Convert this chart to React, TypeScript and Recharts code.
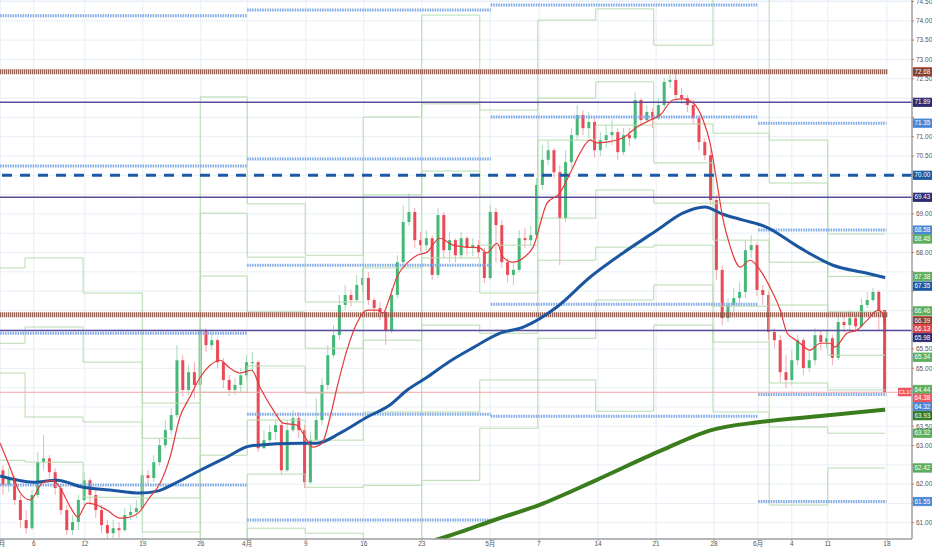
import React from 'react';
import {
  ComposedChart,
  Bar,
  Line,
  XAxis,
  YAxis,
  CartesianGrid,
  ReferenceLine,
} from 'recharts';

// CL1! half-day candles, 1 Mar -> 18 Jun (bar index on the x axis)
const candleClose = [
  61.98, 62.16, 61.59, 61.07, 60.86, 61.72, 62.57, 62.67, 62.31, 61.9,
  61.33, 60.81, 61.02, 61.59, 62.1, 61.72, 61.33, 60.94, 60.73, 60.86,
  60.81, 61.2, 61.28, 61.38, 62.23, 62.16, 62.57, 63.01, 63.4, 63.79,
  65.21, 64.44, 64.9, 64.57, 65.99, 65.6, 65.73, 65.16, 64.7, 64.44,
  64.57, 64.82, 65.16, 65.16, 62.93, 63.14, 63.35, 63.53, 62.36, 63.4,
  63.71, 63.4, 62.05, 63.14, 63.66, 64.57, 65.34, 65.86, 66.64, 66.9,
  66.77, 67.16, 67.34, 66.77, 66.56, 66.46, 65.99, 66.9, 67.75, 68.79,
  69.05, 68.32, 68.19, 68.37, 67.42, 68.97, 68.06, 68.32, 67.93, 68.37,
  68.12, 68.19, 68.01, 67.34, 69.05, 68.71, 67.75, 67.42, 67.55, 68.37,
  68.32, 68.45, 69.75, 70.4, 70.65, 70.08, 68.89, 70.34, 71.04, 71.56,
  71.22, 71.38, 70.65, 70.91, 71.04, 71.12, 70.6, 71.04, 70.96, 71.95,
  71.43, 71.64, 71.48, 71.82, 72.42, 72.47, 72.08, 72.0, 71.82, 71.48,
  70.86, 70.52, 69.36, 67.55, 66.3, 66.64, 66.82, 66.98, 68.06, 68.19,
  67.03, 66.9, 65.94, 65.73, 64.9, 64.7, 65.21, 65.73, 65.01, 65.21,
  65.86, 65.68, 65.78, 65.27, 66.2, 66.12, 66.3, 66.09, 66.64, 66.77,
  66.98, 66.51, 64.38,
];
const candleHigh = [
  62.49, 62.42, 62.23, 61.72, 61.33, 61.85, 62.83, 63.27, 62.75, 62.42,
  61.98, 61.46, 61.2, 61.72, 62.31, 62.16, 61.85, 61.46, 61.07, 61.07,
  61.02, 61.38, 61.46, 61.59, 62.36, 62.36, 62.75, 63.19, 63.66, 63.97,
  65.6, 65.34, 65.08, 65.16, 66.2, 66.04, 65.91, 65.78, 65.27, 64.82,
  64.75, 65.01, 65.34, 65.42, 65.21, 63.4, 63.53, 63.66, 63.6, 63.66,
  63.92, 63.87, 63.53, 63.35, 64.23, 64.75, 65.6, 66.12, 66.9, 67.16,
  67.03, 67.42, 67.6, 67.49, 66.82, 66.72, 66.51, 67.08, 67.93, 69.23,
  69.54, 69.15, 68.53, 68.58, 68.45, 69.15, 69.05, 68.53, 68.37, 68.53,
  68.43, 68.37, 68.32, 68.12, 69.23, 69.15, 68.84, 67.86, 67.75, 68.58,
  68.63, 68.71, 69.93, 70.78, 70.91, 70.71, 70.27, 70.65, 71.22, 71.82,
  71.69, 71.64, 71.48, 71.12, 71.3, 71.43, 71.22, 71.22, 71.22, 72.16,
  72.0, 71.82, 71.74, 72.0, 72.52, 72.6, 72.73, 72.26, 72.08, 71.95,
  71.56, 70.96, 70.65, 69.49, 67.67, 66.82, 67.08, 67.23, 68.32, 68.45,
  68.27, 67.16, 66.98, 66.04, 65.86, 65.34, 65.47, 65.86, 65.8, 65.47,
  66.04, 65.99, 65.99, 65.86, 66.38, 66.38, 66.51, 66.38, 66.82, 66.98,
  67.08, 67.03, 66.51,
];
const candleLow = [
  61.72, 61.79, 61.46, 60.86, 60.71, 60.81, 61.64, 62.36, 62.16, 61.72,
  61.2, 60.68, 60.68, 60.81, 61.46, 61.46, 61.12, 60.73, 60.55, 60.6,
  60.6, 60.76, 61.07, 61.12, 61.28, 62.0, 62.05, 62.47, 62.93, 63.27,
  63.71, 64.28, 64.31, 64.23, 64.44, 65.42, 65.47, 65.01, 64.49, 64.28,
  64.31, 64.38, 64.7, 64.9, 62.83, 62.93, 62.99, 63.14, 62.23, 62.31,
  63.35, 63.19, 61.9, 62.0, 63.14, 63.53, 64.44, 65.27, 65.73, 66.51,
  66.61, 66.72, 66.98, 66.64, 66.3, 66.25, 65.6, 65.91, 66.82, 67.65,
  68.69, 68.12, 68.01, 68.06, 67.29, 67.34, 67.86, 67.75, 67.75, 67.86,
  67.93, 67.91, 67.86, 67.21, 67.29, 67.75, 67.6, 67.23, 67.16, 67.49,
  68.12, 68.19, 68.37, 69.62, 70.27, 69.93, 67.67, 68.79, 70.19, 70.91,
  71.04, 70.96, 70.45, 70.5, 70.71, 70.78, 70.4, 70.52, 70.76, 70.91,
  71.28, 71.38, 71.22, 71.43, 71.74, 72.26, 71.95, 71.85, 71.64, 71.33,
  70.65, 70.4, 69.23, 67.29, 66.12, 66.2, 66.46, 66.64, 66.82, 67.86,
  66.87, 66.64, 65.73, 65.52, 64.64, 64.49, 64.57, 65.08, 64.82, 64.9,
  65.08, 65.47, 65.52, 65.08, 65.21, 65.94, 65.99, 65.94, 66.04, 66.56,
  66.72, 65.99, 64.33,
];
const firstOpen = 62.36;

// moving averages (bar index, price)
const redMaIdx = [
  -0.5, 1.2, 2.9, 4.7, 6.9, 8.6, 9.8, 11.6, 12.9, 14.5,
  16.2, 17.9, 20.2, 21.9, 23.3, 25.3, 27.1, 28.8, 30.5, 32.2,
  34.0, 35.7, 37.4, 39.1, 40.9, 42.9, 44.3, 46.6, 48.3, 50.7,
  51.7, 53.4, 55.0, 56.4, 57.6, 59.3, 61.0, 62.8, 64.5, 65.5,
  66.7, 67.9, 69.7, 71.4, 73.1, 75.3, 77.6, 80.0, 82.2, 83.4,
  85.2, 86.2, 87.9, 89.7, 91.4, 93.8, 96.0, 97.8, 99.5, 101.2,
  102.4, 104.1, 106.9, 109.3, 111.6, 113.3, 115.5, 117.2, 119.0, 120.7,
  121.9, 123.1, 124.1, 125.3, 127.1, 128.8, 130.5, 132.2, 134.0, 135.2,
  136.2, 137.4, 139.1, 140.9, 142.6, 143.4, 145.5, 147.2, 149.0, 150.9,
  151.6, 152.1,
];
const redMaVal = [
  63.06, 62.44, 61.79, 61.59, 62.05, 62.1, 61.92, 61.41, 61.15, 61.51,
  61.46, 61.33, 61.12, 61.15, 61.25, 61.66, 62.03, 62.7, 63.74, 64.25,
  64.77, 65.08, 65.21, 65.01, 64.88, 64.95, 64.51, 63.92, 63.58, 63.53,
  63.32, 62.96, 63.06, 63.74, 64.51, 65.47, 66.17, 66.51, 66.51, 66.43,
  66.85, 67.36, 67.73, 67.93, 68.01, 68.37, 68.19, 68.14, 68.12, 67.99,
  68.24, 67.88, 67.75, 67.86, 68.14, 69.28, 69.54, 70.06, 70.58, 70.91,
  70.84, 70.86, 70.97, 71.25, 71.43, 71.56, 71.95, 71.98, 71.87, 71.43,
  70.84, 69.8, 68.89, 68.19, 67.62, 67.8, 67.55, 67.11, 66.51, 65.91,
  65.78, 65.65, 65.47, 65.65, 65.65, 65.55, 65.91, 65.99, 66.25, 66.51,
  66.43, 66.17,
];
const blueMaIdx = [
  -0.5, 5.2, 9.3, 13.8, 18.4, 23.6, 26.6, 30.0, 34.0, 38.6,
  42.6, 51.2, 54.1, 58.1, 62.8, 66.7, 69.7, 73.1, 76.6, 81.0,
  85.7, 89.7, 95.5, 101.2, 106.9, 112.8, 117.2, 121.0, 124.1, 127.6,
  131.6, 137.2, 143.1, 148.8, 152.1,
];
const blueMaVal = [
  62.21, 62.05, 62.1, 61.92, 61.85, 61.77, 61.82, 62.05, 62.36, 62.7,
  62.99, 63.06, 63.06, 63.32, 63.74, 64.05, 64.44, 64.77, 65.14, 65.53,
  65.91, 66.07, 66.59, 67.36, 67.99, 68.58, 69.02, 69.18, 68.99, 68.84,
  68.66, 68.14, 67.67, 67.47, 67.35,
];
const greenMaIdx = [74.5, 79.8, 84.1, 92.4, 102.2, 113.6, 122.1, 130.5, 140.5, 152.1];
const greenMaVal = [60.55, 60.81, 61.04, 61.46, 62.1, 62.88, 63.4, 63.61, 63.76, 63.93];

// weekly pivots (R3..S3), one value per week
const weekStarts = [-0.5, 3.8, 13.8, 24.0, 34.0, 42.1, 52.1, 62.1, 72.2, 82.2, 92.2, 102.2, 112.2, 122.4, 132.1, 142.2];
const weekEnd = 152.1;
const pivotR3 = [67.6, 67.86, 66.95, 64.1, 72.03, 69.26, 67.93, 71.51, 74.15, 71.69, 74.02, 74.31, 73.37, 75.06, 70.91, 68.48];
const pivotR2 = [65.65, 66.07, 65.16, 63.19, 69.02, 67.88, 66.72, 69.49, 71.85, 69.44, 72.0, 72.42, 71.33, 71.09, 69.8, 67.38];
const pivotR1 = [64.88, 63.74, 63.61, 61.64, 67.39, 66.46, 65.52, 67.6, 70.11, 68.19, 70.91, 71.3, 70.32, 69.28, 67.75, 66.46];
const pivotP = [62.62, 62.57, 61.66, 60.76, 64.38, 65.06, 64.36, 65.73, 67.86, 66.95, 68.89, 69.62, 69.28, 68.32, 66.64, 65.34];
const pivotS1 = [60.55, 60.55, 60.03, 59.77, 62.75, 63.66, 63.14, 63.87, 66.12, 65.91, 67.8, 68.14, 68.19, 66.61, 64.62, 64.44];
const pivotS2 = [59.51, 59.51, 59.0, 58.74, 59.75, 62.26, 61.92, 61.97, 63.87, 64.7, 65.78, 66.77, 67.16, 65.68, 63.48, 63.32];
const pivotS3 = [58.48, 58.48, 57.96, 57.7, 58.12, 60.86, 60.73, 60.08, 62.1, 63.45, 64.7, 63.89, 66.12, 63.87, 61.46, 62.42];

// monthly pivots
const monthStarts = [-0.5, 42.1, 84.1, 130.2];
const monthEnd = 152.3;
const marchPivots = [74.13, 70.24, 65.91, 61.98];
const aprilPivots = [74.28, 70.42, 67.67, 63.81, 61.07];
const mayPivots = [74.41, 71.51, 66.66, 63.76];
const junePivots = [71.35, 68.58, 64.32, 61.55];

// drawn horizontal levels
const brownLevels = [72.68, 66.39];
const purpleLevels = [71.89, 69.43, 65.98];
const dashedLevel = 70.0;

const dateTicks = [-0.5, 5.3, 14.1, 24.1, 34.1, 42.1, 52.2, 62.2, 72.2, 84.0, 92.4, 102.6, 112.6, 122.6, 130.2, 136.0, 142.2, 152.4];
const dateLabels = ['3月', '6', '12', '19', '26', '4月', '9', '16', '23', '5月', '7', '14', '21', '28', '6月', '4', '11', '18'];
const priceTicks = [
  61, 61.5, 62, 62.5, 63, 63.5, 64, 64.5, 65, 65.5, 66, 66.5, 67, 67.5,
  68, 68.5, 69, 69.5, 70, 70.5, 71, 71.5, 72, 72.5, 73, 73.5, 74, 74.5,
];

const FONT = "'Liberation Sans', Arial, 'Noto Sans CJK JP', sans-serif";
const Y_MIN = 60.58;
const Y_MAX = 74.54;
const PLOT_H = 539;
const PX_PER_UNIT = PLOT_H / (Y_MAX - Y_MIN);

const NAVY = '#2d2a70';
const LBLUE = '#4b87d6';
const DBLUE = '#1c5aa4';
const GREEN = '#5cae5c';
const BROWN = '#7d3d31';

const TAGS = [
  { v: 72.68, bg: BROWN, border: '#d8473b', dy: 0 },
  { v: 71.89, bg: NAVY, dy: 0 },
  { v: 71.35, bg: LBLUE, dy: 0 },
  { v: 70.0, bg: DBLUE, dy: 0 },
  { v: 69.43, bg: NAVY, dy: 0 },
  { v: 68.58, bg: LBLUE, dy: 0 },
  { v: 68.48, bg: GREEN, dy: 5 },
  { v: 67.38, bg: GREEN, dy: 0 },
  { v: 67.35, bg: DBLUE, dy: 8.5 },
  { v: 66.46, bg: GREEN, dy: -1 },
  { v: 66.39, bg: BROWN, border: '#d8473b', dy: 6 },
  { v: 66.13, bg: '#e04646', dy: 4 },
  { v: 65.98, bg: NAVY, dy: 7 },
  { v: 65.34, bg: GREEN, dy: 2 },
  { v: 64.44, bg: GREEN, dy: -0.5 },
  { v: 64.38, bg: '#ef5560', dy: 6, symbol: 'CL1!' },
  { v: 64.32, bg: LBLUE, dy: 12 },
  { v: 63.93, bg: '#2f7a1f', dy: 6 },
  { v: 63.32, bg: GREEN, dy: 0 },
  { v: 62.42, bg: GREEN, dy: 0 },
  { v: 61.55, bg: LBLUE, dy: 0 },
];

const candles = candleClose.map((close, i) => ({
  x: i,
  open: i === 0 ? firstOpen : candleClose[i - 1],
  close,
  high: candleHigh[i],
  low: candleLow[i],
}));

const toSeries = (idx: number[], val: number[]) => idx.map((x, i) => ({ x, v: val[i] }));
const redMa = toSeries(redMaIdx, redMaVal);
const blueMa = toSeries(blueMaIdx, blueMaVal);
const greenMa = toSeries(greenMaIdx, greenMaVal);

const pivotKeys = ['r3', 'r2', 'r1', 'p', 's1', 's2', 's3'];
const pivotCols = [pivotR3, pivotR2, pivotR1, pivotP, pivotS1, pivotS2, pivotS3];
const pivotRows = [...weekStarts, weekEnd].map((x, k) => {
  const row: any = { x };
  const w = Math.min(k, weekStarts.length - 1);
  pivotKeys.forEach((key, j) => (row[key] = pivotCols[j][w]));
  return row;
});

const monthly = [marchPivots, aprilPivots, mayPivots, junePivots];

const Candle = (props: any) => {
  const { x, y, width, height, payload } = props;
  if (!payload || !Number.isFinite(y) || !Number.isFinite(height)) return null;
  const { open, close, high, low } = payload;
  const top = Math.min(y, y + height);
  const h = Math.abs(height);
  const span = high - low || 1;
  const py = (v: number) => top + ((high - v) / span) * h;
  const up = close >= open;
  const cx = x + width / 2;
  const b1 = py(Math.max(open, close));
  const b2 = py(Math.min(open, close));
  const bw = 3;
  return (
    <g>
      <line x1={cx} x2={cx} y1={top} y2={top + h} stroke={up ? '#a6dab8' : '#f4a9b0'} strokeWidth={1} />
      <rect x={cx - bw / 2} y={b1} width={bw} height={Math.max(1, b2 - b1)} fill={up ? '#45b878' : '#ea4a56'} />
    </g>
  );
};

// hide the axis numbers that sit under a coloured price tag
const PriceTick = (props: any) => {
  const { x, y, payload } = props;
  const v = payload.value as number;
  const covered = TAGS.some((t) => Math.abs((v - t.v) * PX_PER_UNIT + t.dy) < 6.5);
  return (
    <g>
      <line x1={x - 2} x2={x} y1={y} y2={y} stroke="#c07a6a" />
      {!covered && (
        <text x={x + 2} y={y} dy="0.35em" fontSize={6.5} fill="#555" fontFamily={FONT}>
          {v.toFixed(2)}
        </text>
      )}
    </g>
  );
};

const Tag = (props: any) => {
  const { viewBox, value, bg, border, dy, symbol } = props;
  if (!viewBox) return null;
  const x = viewBox.x + viewBox.width + 1;
  const y = viewBox.y + dy;
  return (
    <g fontFamily={FONT}>
      {symbol && (
        <g>
          <rect x={x - 15} y={y - 10.5} width={14} height={8.5} fill={bg} />
          <text x={x - 8} y={y - 6} textAnchor="middle" dominantBaseline="middle" fontSize={6} fill="#fff">
            {symbol}
          </text>
        </g>
      )}
      <rect x={x} y={y - 4.2} width={19} height={8.4} fill={bg} stroke={border || bg} strokeWidth={0.8} />
      <text x={x + 9.5} y={y + 0.4} textAnchor="middle" dominantBaseline="middle" fontSize={6.3} fill="#fff">
        {value.toFixed(2)}
      </text>
    </g>
  );
};

export default function App() {
  const lastClose = candleClose[candleClose.length - 1];
  return (
    <div style={{ position: 'absolute', left: 0, top: 0, width: 932, height: 550, background: '#fff' }}>
      <ComposedChart
        width={932}
        height={550}
        data={candles}
        margin={{ top: 0, right: 0, bottom: 0, left: 0 }}
      >
        <CartesianGrid stroke="#e8eff6" strokeWidth={1} />
        <XAxis
          dataKey="x"
          type="number"
          domain={[-0.517, 156.72]}
          allowDataOverflow
          ticks={dateTicks}
          interval={0}
          tickFormatter={(v: number) => dateLabels[dateTicks.indexOf(v)] ?? ''}
          height={11}
          tickSize={2}
          tickMargin={0}
          tick={{ fontSize: 6.5, fill: '#555', fontFamily: FONT }}
          axisLine={{ stroke: '#a0a0a0', strokeWidth: 1.5 }}
          tickLine={{ stroke: '#a0a0a0' }}
        />
        <YAxis
          orientation="right"
          type="number"
          domain={[Y_MIN, Y_MAX]}
          allowDataOverflow
          ticks={priceTicks}
          interval={0}
          width={20}
          tickSize={0}
          tick={<PriceTick />}
          axisLine={{ stroke: '#a0a0a0', strokeWidth: 1.5 }}
          tickLine={false}
        />

        {pivotKeys.map((key) => (
          <Line
            key={key}
            data={pivotRows}
            dataKey={key}
            type="stepAfter"
            stroke="#b7dbae"
            strokeWidth={1}
            dot={false}
            activeDot={false}
            isAnimationActive={false}
          />
        ))}

        {monthly.map((levels, m) =>
          levels.map((v) => (
            <ReferenceLine
              key={`m${m}-${v}`}
              segment={[
                { x: monthStarts[m], y: v },
                { x: monthStarts[m + 1] ?? monthEnd, y: v },
              ]}
              stroke="#7fa9e6"
              strokeWidth={3}
              strokeDasharray="1.5 1"
            />
          )),
        )}

        <Bar
          dataKey={(d: any) => [d.low, d.high]}
          shape={Candle}
          barSize={4}
          isAnimationActive={false}
        />

        {purpleLevels.map((v) => (
          <ReferenceLine key={`p${v}`} y={v} stroke="#5a4b9b" strokeWidth={1.5} />
        ))}
        <ReferenceLine y={dashedLevel} stroke="#1c5aa4" strokeWidth={3} strokeDasharray="10 8" />
        {brownLevels.map((v) => (
          <ReferenceLine
            key={`b${v}`}
            segment={[
              { x: -0.5, y: v },
              { x: 152.6, y: v },
            ]}
            stroke="#8d5244"
            strokeWidth={5}
            strokeDasharray="1.2 0.8"
          />
        ))}
        <ReferenceLine y={lastClose} stroke="#f3a6ad" strokeWidth={1} />

        <Line data={greenMa} dataKey="v" type="monotone" stroke="#3b7d1c" strokeWidth={4} dot={false} activeDot={false} isAnimationActive={false} />
        <Line data={blueMa} dataKey="v" type="monotone" stroke="#1b56a0" strokeWidth={3} dot={false} activeDot={false} isAnimationActive={false} />
        <Line data={redMa} dataKey="v" type="monotone" stroke="#e33a3a" strokeWidth={1.2} dot={false} activeDot={false} isAnimationActive={false} />

        {TAGS.map((t) => (
          <ReferenceLine
            key={`t${t.v}`}
            y={t.v}
            stroke="none"
            label={<Tag value={t.v} bg={t.bg} border={t.border} dy={t.dy} symbol={t.symbol} />}
          />
        ))}
      </ComposedChart>
    </div>
  );
}
